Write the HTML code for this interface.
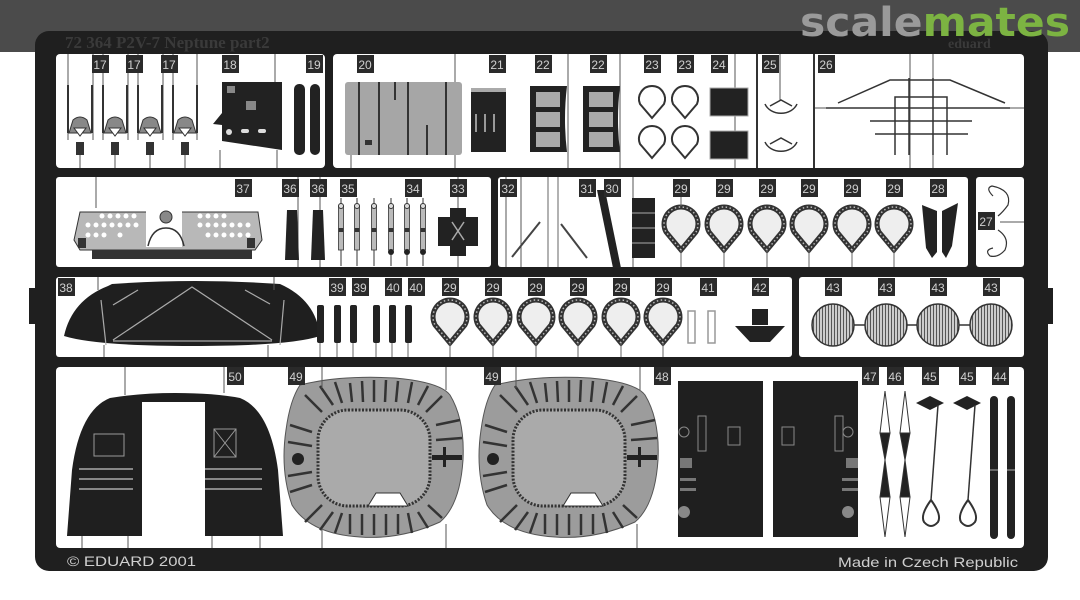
<!DOCTYPE html>
<html><head><meta charset="utf-8"><style>
html,body{margin:0;padding:0;background:#fff;}
svg{display:block;}
</style></head><body>
<svg width="1080" height="600" viewBox="0 0 1080 600" xmlns="http://www.w3.org/2000/svg" font-family="Liberation Sans, sans-serif">
<defs>
<pattern id="hatch" width="3" height="4" patternUnits="userSpaceOnUse"><rect width="3" height="4" fill="#ccc"/><rect width="1" height="4" fill="#555"/></pattern>
<g id="drop29"><path d="M0 22 L-15 4 A17 17 0 1 1 15 4 Z" fill="#eee" stroke="#333" stroke-width="5"/><path d="M0 22 L-15 4 A17 17 0 1 1 15 4 Z" fill="none" stroke="#bbb" stroke-width="1.5" stroke-dasharray="1.5 2.5"/></g>
<g id="drop23"><path d="M0 18 L-12 4 A13 13 0 1 1 12 4 Z" fill="none" stroke="#333" stroke-width="2"/></g>
</defs>
<!-- header -->
<rect x="0" y="0" width="1080" height="52" fill="#4b4b4b"/>
<!-- fret frame -->
<rect x="35" y="31" width="1013" height="540" rx="14" fill="#1f1f1f"/>
<rect x="29" y="288" width="8" height="36" fill="#1f1f1f"/>
<rect x="1045" y="288" width="8" height="36" fill="#1f1f1f"/>
<text x="65" y="48" font-family="Liberation Serif, serif" font-weight="bold" font-size="17" fill="#3a3a3a">72 364  P2V-7 Neptune   part2</text>
<text x="800" y="36" font-family="DejaVu Sans, sans-serif" font-weight="bold" font-size="40" fill="#9a9a9a" textLength="270" lengthAdjust="spacingAndGlyphs">scale<tspan fill="#7cb342">mates</tspan></text>
<text x="948" y="48" font-family="Liberation Serif, serif" font-weight="bold" font-size="14" fill="#3a3a3a">eduard</text>
<!-- panels -->
<g fill="#fff">
<rect x="56" y="54" width="269" height="114" rx="4"/>
<rect x="333" y="54" width="691" height="114" rx="4"/>
<rect x="56" y="177" width="435" height="90" rx="3"/>
<rect x="498" y="177" width="470" height="90" rx="3"/>
<rect x="976" y="177" width="48" height="90" rx="3"/>
<rect x="56" y="277" width="736" height="80" rx="3"/>
<rect x="799" y="277" width="225" height="80" rx="3"/>
<rect x="56" y="367" width="968" height="181" rx="4"/>
</g>
<rect x="756" y="54" width="2" height="114" fill="#333"/>
<rect x="813" y="54" width="2" height="114" fill="#333"/>
<g stroke="#555" stroke-width="1">
<line x1="68" y1="54" x2="68" y2="140"/><line x1="93" y1="54" x2="93" y2="140"/>
<line x1="103" y1="54" x2="103" y2="140"/><line x1="128" y1="54" x2="128" y2="140"/>
<line x1="138" y1="54" x2="138" y2="140"/><line x1="163" y1="54" x2="163" y2="140"/>
<line x1="173" y1="54" x2="173" y2="140"/><line x1="197" y1="54" x2="197" y2="140"/>
<line x1="275" y1="54" x2="275" y2="82"/><line x1="220" y1="150" x2="220" y2="168"/><line x1="277" y1="150" x2="277" y2="168"/>
<line x1="455" y1="54" x2="455" y2="82"/><line x1="351" y1="155" x2="351" y2="168"/><line x1="455" y1="155" x2="455" y2="168"/>
<line x1="568" y1="54" x2="568" y2="168"/><line x1="620" y1="54" x2="620" y2="168"/>
<line x1="735" y1="54" x2="735" y2="168"/><line x1="780" y1="54" x2="780" y2="100"/>
<line x1="910" y1="54" x2="910" y2="168"/><line x1="933" y1="54" x2="933" y2="168"/>
<line x1="815" y1="108" x2="1024" y2="108"/>
</g>
<g>
<g id="p17">
<rect x="67" y="85" width="2" height="48" fill="#333"/><rect x="91" y="85" width="2" height="48" fill="#333"/>
<path d="M69 133 L73 120 Q80 114 87 120 L91 133 Z" fill="#888" stroke="#333"/>
<path d="M74 128 L86 128 L80 136 Z" fill="#fff" stroke="#333"/>
<rect x="76" y="142" width="8" height="13" fill="#333"/>
<line x1="80" y1="155" x2="80" y2="168" stroke="#555"/>
</g>
<use href="#p17" x="35"/><use href="#p17" x="70"/><use href="#p17" x="105"/>
</g>
<path d="M222 82 L282 82 L282 150 L222 141 L222 125 L213 124 L222 113 Z" fill="#222"/>
<rect x="227" y="86" width="8" height="7" fill="#888"/><rect x="246" y="101" width="10" height="9" fill="#888"/><circle cx="229" cy="132" r="3" fill="#ddd"/><rect x="241" y="129" width="8" height="4" rx="2" fill="#ddd"/><rect x="258" y="129" width="8" height="4" rx="2" fill="#ddd"/>
<rect x="294" y="84" width="11" height="71" rx="5" fill="#222"/><rect x="310" y="84" width="10" height="71" rx="5" fill="#222"/>
<rect x="345" y="82" width="117" height="73" rx="3" fill="#a6a6a6"/>
<g stroke="#333" stroke-width="2"><line x1="359" y1="82" x2="359" y2="155"/><line x1="379" y1="82" x2="379" y2="155"/><line x1="408" y1="82" x2="408" y2="155"/><line x1="446" y1="82" x2="446" y2="155"/><line x1="395" y1="82" x2="395" y2="100"/><line x1="427" y1="125" x2="427" y2="155"/></g>
<rect x="365" y="140" width="7" height="5" fill="#333"/>
<rect x="471" y="90" width="35" height="62" fill="#222"/><rect x="471" y="88" width="35" height="4" fill="#aaa"/>
<g fill="#999"><rect x="475" y="114" width="2" height="18"/><rect x="484" y="114" width="2" height="18"/><rect x="493" y="114" width="2" height="18"/></g>
<g id="p22"><path d="M530 86 L567 86 Q563 119 567 152 L530 152 Z" fill="#222"/>
<rect x="536" y="92" width="24" height="15" fill="#aaa"/><rect x="536" y="112" width="24" height="15" fill="#aaa"/><rect x="536" y="132" width="24" height="15" fill="#aaa"/></g>
<use href="#p22" x="53"/>
<use href="#drop23" x="652" y="100"/><use href="#drop23" x="685" y="100"/><use href="#drop23" x="652" y="140"/><use href="#drop23" x="685" y="140"/>
<rect x="710" y="88" width="38" height="28" fill="#222" stroke="#aaa"/><rect x="710" y="131" width="38" height="28" fill="#222" stroke="#aaa"/>
<g fill="none" stroke="#333" stroke-width="1.5"><path d="M765 104 A17 14 0 0 0 797 104"/><path d="M770 106 L781 100 L792 106"/><path d="M765 142 A17 14 0 0 0 797 142"/><path d="M770 144 L781 138 L792 144"/></g>
<g stroke="#333" stroke-width="1.5" fill="none"><path d="M838 103 L890 80 L950 80 L1005 103"/><line x1="826" y1="108" x2="1010" y2="108"/><line x1="870" y1="121" x2="972" y2="121"/><line x1="875" y1="134" x2="968" y2="134"/><line x1="909" y1="78" x2="909" y2="155"/><line x1="933" y1="78" x2="933" y2="155"/><path d="M895 155 L895 97 L947 97 L947 155"/></g>
<g stroke="#555" stroke-width="1">
<line x1="96" y1="177" x2="96" y2="208"/><line x1="298" y1="177" x2="298" y2="267"/><line x1="320" y1="177" x2="320" y2="267"/>
<line x1="506" y1="177" x2="506" y2="267"/><line x1="521" y1="177" x2="521" y2="267"/><line x1="633" y1="177" x2="633" y2="267"/>
<line x1="1000" y1="222" x2="1024" y2="222"/>
</g>
<path d="M80 212 L258 212 L262 240 L255 250 L80 250 L74 240 Z" fill="#b8b8b8" stroke="#333"/>
<g fill="#fff">
<circle cx="102" cy="216" r="2.5"/><circle cx="110" cy="216" r="2.5"/><circle cx="118" cy="216" r="2.5"/><circle cx="126" cy="216" r="2.5"/><circle cx="134" cy="216" r="2.5"/>
<circle cx="88" cy="225" r="2.5"/><circle cx="96" cy="225" r="2.5"/><circle cx="104" cy="225" r="2.5"/><circle cx="112" cy="225" r="2.5"/><circle cx="120" cy="225" r="2.5"/><circle cx="128" cy="225" r="2.5"/><circle cx="136" cy="225" r="2.5"/>
<circle cx="88" cy="235" r="2.5"/><circle cx="96" cy="235" r="2.5"/><circle cx="104" cy="235" r="2.5"/><circle cx="120" cy="235" r="2.5"/>
<circle cx="200" cy="216" r="2.5"/><circle cx="208" cy="216" r="2.5"/><circle cx="216" cy="216" r="2.5"/><circle cx="224" cy="216" r="2.5"/>
<circle cx="200" cy="225" r="2.5"/><circle cx="208" cy="225" r="2.5"/><circle cx="216" cy="225" r="2.5"/><circle cx="224" cy="225" r="2.5"/><circle cx="232" cy="225" r="2.5"/><circle cx="240" cy="225" r="2.5"/><circle cx="248" cy="225" r="2.5"/>
<circle cx="208" cy="235" r="2.5"/><circle cx="216" cy="235" r="2.5"/><circle cx="224" cy="235" r="2.5"/><circle cx="232" cy="235" r="2.5"/><circle cx="240" cy="235" r="2.5"/><circle cx="248" cy="235" r="2.5"/>
<rect x="146" y="211" width="36" height="36"/></g>
<circle cx="166" cy="217" r="6" fill="#888" stroke="#333"/><path d="M148 246 Q152 228 166 228 Q180 228 184 246" fill="none" stroke="#333" stroke-width="1.5"/>
<rect x="92" y="250" width="160" height="9" fill="#333"/><rect x="78" y="238" width="8" height="10" fill="#333"/><rect x="247" y="238" width="8" height="10" fill="#333"/>
<path d="M287 210 L297 210 L299 260 L285 260 Z" fill="#222"/><path d="M313 210 L323 210 L325 260 L311 260 Z" fill="#222"/>
<g id="p35"><line x1="341" y1="198" x2="341" y2="266" stroke="#333"/><rect x="338.5" y="206" width="5" height="44" fill="#bbb" stroke="#333" stroke-width="0.8"/><circle cx="341" cy="206" r="2.5" fill="#ddd" stroke="#333"/><rect x="338.5" y="228" width="5" height="4" fill="#333"/></g>
<use href="#p35" x="16"/><use href="#p35" x="33"/><use href="#p35" x="50"/><use href="#p35" x="66"/><use href="#p35" x="82"/>
<circle cx="391" cy="252" r="3" fill="#222"/><circle cx="407" cy="252" r="3" fill="#222"/><circle cx="423" cy="252" r="3" fill="#222"/>
<line x1="458" y1="177" x2="458" y2="267" stroke="#555"/>
<path d="M450 208 L466 208 L466 217 L478 217 L478 246 L466 246 L466 256 L450 256 L450 246 L438 246 L438 217 L450 217 Z" fill="#222"/>
<path d="M452 222 L464 240 M464 222 L452 240" stroke="#aaa" stroke-width="1.5"/>
<g stroke="#444" stroke-width="2"><line x1="512" y1="257" x2="540" y2="222"/><line x1="561" y1="224" x2="587" y2="258"/></g>
<line x1="548" y1="177" x2="548" y2="267" stroke="#666"/><line x1="558" y1="177" x2="558" y2="267" stroke="#666"/>
<path d="M597 190 L605 190 L621 268 L613 268 Z" fill="#222"/>
<rect x="632" y="198" width="23" height="60" fill="#222"/><g stroke="#aaa"><line x1="632" y1="213" x2="655" y2="213"/><line x1="632" y1="228" x2="655" y2="228"/><line x1="632" y1="243" x2="655" y2="243"/></g>
<g><use href="#drop29" x="681" y="228"/><use href="#drop29" x="724" y="228"/><use href="#drop29" x="767" y="228"/><use href="#drop29" x="809" y="228"/><use href="#drop29" x="852" y="228"/><use href="#drop29" x="894" y="228"/></g>
<g stroke="#666"><line x1="681" y1="196" x2="681" y2="206"/><line x1="681" y1="250" x2="681" y2="267"/><line x1="724" y1="250" x2="724" y2="267"/><line x1="767" y1="250" x2="767" y2="267"/><line x1="809" y1="250" x2="809" y2="267"/><line x1="852" y1="250" x2="852" y2="267"/><line x1="894" y1="250" x2="894" y2="267"/></g>
<path d="M922 205 L937 211 L937 252 L932 258 L926 248 Z" fill="#222"/><path d="M958 203 L942 211 L942 252 L946 258 L952 246 Z" fill="#222"/>
<g fill="none" stroke="#333" stroke-width="1.2"><path d="M993 196 Q985 188 992 186 Q1012 190 1008 205 Q1003 212 998 216"/><path d="M998 230 Q1010 238 1005 250 Q998 258 990 256 Q984 250 993 248"/></g>
<path d="M64 336 Q72 300 108 286 L112 284 Q195 278 280 284 Q316 300 320 336 Q290 346 192 346 Q96 346 64 336 Z" fill="#1f1f1f"/>
<g stroke="#aaa" stroke-width="1.2" fill="none"><line x1="101" y1="300" x2="106" y2="345"/><line x1="284" y1="300" x2="280" y2="345"/><line x1="113" y1="341" x2="272" y2="341"/><path d="M113 340 L192 287 L272 340"/><line x1="113" y1="305" x2="138" y2="290"/><line x1="245" y1="290" x2="270" y2="304"/></g>
<g stroke="#555"><line x1="98" y1="277" x2="98" y2="290"/><line x1="274" y1="277" x2="274" y2="290"/><line x1="104" y1="345" x2="104" y2="357"/><line x1="268" y1="345" x2="268" y2="357"/></g>
<g fill="#222"><rect x="317" y="305" width="7" height="38" rx="2"/><rect x="334" y="305" width="7" height="38" rx="2"/><rect x="350" y="305" width="7" height="38" rx="2"/><rect x="373" y="305" width="7" height="38" rx="2"/><rect x="389" y="305" width="7" height="38" rx="2"/><rect x="405" y="305" width="7" height="38" rx="2"/></g>
<g stroke="#666"><line x1="320" y1="343" x2="320" y2="357"/><line x1="337" y1="343" x2="337" y2="357"/><line x1="353" y1="343" x2="353" y2="357"/><line x1="376" y1="343" x2="376" y2="357"/><line x1="392" y1="343" x2="392" y2="357"/><line x1="408" y1="343" x2="408" y2="357"/></g>
<g><use href="#drop29" x="450" y="321"/><use href="#drop29" x="493" y="321"/><use href="#drop29" x="536" y="321"/><use href="#drop29" x="578" y="321"/><use href="#drop29" x="621" y="321"/><use href="#drop29" x="663" y="321"/></g>
<g stroke="#666"><line x1="450" y1="343" x2="450" y2="357"/><line x1="493" y1="343" x2="493" y2="357"/><line x1="536" y1="343" x2="536" y2="357"/><line x1="578" y1="343" x2="578" y2="357"/><line x1="621" y1="343" x2="621" y2="357"/><line x1="663" y1="343" x2="663" y2="357"/></g>
<rect x="688" y="311" width="7" height="32" fill="none" stroke="#999" stroke-width="1.5"/><rect x="708" y="311" width="7" height="32" fill="none" stroke="#999" stroke-width="1.5"/>
<rect x="752" y="309" width="16" height="16" fill="#222"/><path d="M735 326 L785 326 L770 342 L750 342 Z" fill="#222"/>
<g stroke="#333" stroke-width="1.5"><line x1="833" y1="325" x2="991" y2="325"/>
<circle cx="833" cy="325" r="21" fill="url(#hatch)"/><circle cx="886" cy="325" r="21" fill="url(#hatch)"/><circle cx="938" cy="325" r="21" fill="url(#hatch)"/><circle cx="991" cy="325" r="21" fill="url(#hatch)"/></g>
<path d="M67 536 L72 470 Q80 410 110 398 Q140 393 175 393 Q215 393 240 398 Q270 410 278 470 L283 536 L205 536 L205 402 L142 402 L142 536 Z" fill="#1f1f1f"/>
<rect x="94" y="434" width="30" height="22" fill="none" stroke="#999"/><rect x="214" y="429" width="22" height="28" fill="none" stroke="#999"/><path d="M214 429 L236 457 M236 429 L214 457" stroke="#999"/>
<g stroke="#aaa" stroke-width="1.5"><line x1="79" y1="469" x2="133" y2="469"/><line x1="79" y1="479" x2="133" y2="479"/><line x1="79" y1="489" x2="133" y2="489"/><line x1="205" y1="469" x2="262" y2="469"/><line x1="205" y1="479" x2="262" y2="479"/><line x1="205" y1="489" x2="262" y2="489"/></g>
<g id="p49">
<path d="M300 385 Q340 375 395 378 Q440 382 450 395 Q465 420 463 460 Q460 505 440 522 Q400 540 360 537 Q310 534 292 505 Q280 470 286 430 Q290 400 300 385 Z" fill="#9c9c9c" stroke="#555"/>
<rect x="318" y="410" width="112" height="96" rx="30" fill="#aaa" stroke="#333" stroke-width="3" stroke-dasharray="2 1.5"/>
<path d="M368 506 L376 493 L400 493 L408 506 Z" fill="#fff" stroke="#333"/>
<circle cx="298" cy="459" r="6" fill="#222"/>
<rect x="432" y="455" width="30" height="5" fill="#222"/><rect x="443" y="447" width="3" height="20" fill="#222"/>
<g stroke="#333" stroke-width="2.5">
<line x1="350" y1="383" x2="352" y2="402"/><line x1="362" y1="381" x2="363" y2="402"/><line x1="374" y1="380" x2="374" y2="402"/><line x1="386" y1="380" x2="385" y2="402"/><line x1="398" y1="381" x2="396" y2="402"/>
<line x1="350" y1="514" x2="350" y2="534"/><line x1="362" y1="514" x2="362" y2="535"/><line x1="374" y1="514" x2="374" y2="535"/><line x1="386" y1="514" x2="386" y2="535"/><line x1="398" y1="514" x2="398" y2="534"/>
<line x1="290" y1="425" x2="312" y2="432"/><line x1="288" y1="442" x2="312" y2="446"/><line x1="288" y1="476" x2="312" y2="472"/><line x1="290" y1="492" x2="312" y2="485"/>
<line x1="305" y1="395" x2="322" y2="412"/><line x1="320" y1="386" x2="333" y2="405"/><line x1="335" y1="382" x2="342" y2="403"/>
<line x1="305" y1="522" x2="322" y2="505"/><line x1="320" y1="530" x2="333" y2="512"/><line x1="335" y1="533" x2="342" y2="513"/>
<line x1="412" y1="382" x2="408" y2="403"/><line x1="428" y1="386" x2="418" y2="405"/><line x1="442" y1="396" x2="426" y2="412"/>
<line x1="412" y1="533" x2="408" y2="513"/><line x1="428" y1="528" x2="418" y2="512"/><line x1="442" y1="518" x2="428" y2="505"/>
<line x1="436" y1="425" x2="460" y2="420"/><line x1="436" y1="440" x2="462" y2="438"/>
</g>
</g>
<use href="#p49" x="195"/>
<g stroke="#555"><line x1="322" y1="367" x2="322" y2="388"/><line x1="322" y1="530" x2="322" y2="548"/><line x1="446" y1="367" x2="446" y2="390"/><line x1="446" y1="524" x2="446" y2="548"/><line x1="516" y1="367" x2="516" y2="388"/><line x1="640" y1="367" x2="640" y2="390"/><line x1="637" y1="524" x2="637" y2="548"/><line x1="125" y1="367" x2="125" y2="395"/><line x1="82" y1="536" x2="82" y2="548"/><line x1="128" y1="536" x2="128" y2="548"/><line x1="212" y1="536" x2="212" y2="548"/><line x1="260" y1="536" x2="260" y2="548"/><line x1="224" y1="367" x2="224" y2="393"/></g>
<rect x="678" y="381" width="85" height="156" fill="#1f1f1f"/><rect x="773" y="381" width="85" height="156" fill="#1f1f1f"/>
<g fill="none" stroke="#888"><rect x="698" y="416" width="8" height="35"/><rect x="728" y="427" width="12" height="18"/><rect x="835" y="416" width="8" height="35"/><rect x="782" y="427" width="12" height="18"/><circle cx="684" cy="432" r="5"/><circle cx="848" cy="432" r="5"/></g>
<circle cx="684" cy="512" r="6" fill="#888"/><circle cx="848" cy="512" r="6" fill="#888"/>
<g fill="#777"><rect x="680" y="458" width="12" height="10"/><rect x="846" y="458" width="12" height="10"/><rect x="680" y="478" width="16" height="3"/><rect x="680" y="488" width="16" height="3"/><rect x="842" y="478" width="16" height="3"/><rect x="842" y="488" width="16" height="3"/></g>
<g fill="#222" stroke="#333"><path d="M885 391 L890 433 L880 433 Z" fill="#fff"/><path d="M880 433 L890 433 L885 460 Z"/><path d="M885 460 L890 497 L880 497 Z"/><path d="M880 497 L890 497 L885 537 Z" fill="#fff"/>
<path d="M905 391 L910 433 L900 433 Z" fill="#fff"/><path d="M900 433 L910 433 L905 460 Z"/><path d="M905 460 L910 497 L900 497 Z"/><path d="M900 497 L910 497 L905 537 Z" fill="#fff"/></g>
<g><path d="M916 403 L930 396 L944 403 L930 410 Z" fill="#222"/><line x1="938" y1="405" x2="931" y2="500" stroke="#333" stroke-width="1.5"/><path d="M931 500 Q920 515 924 522 Q931 530 938 522 Q942 515 931 500" fill="none" stroke="#333" stroke-width="2"/></g>
<g transform="translate(37,0)"><path d="M916 403 L930 396 L944 403 L930 410 Z" fill="#222"/><line x1="938" y1="405" x2="931" y2="500" stroke="#333" stroke-width="1.5"/><path d="M931 500 Q920 515 924 522 Q931 530 938 522 Q942 515 931 500" fill="none" stroke="#333" stroke-width="2"/></g>
<rect x="990" y="396" width="8" height="143" rx="4" fill="#222"/><rect x="1007" y="396" width="8" height="143" rx="4" fill="#222"/>
<line x1="990" y1="470" x2="998" y2="470" stroke="#aaa"/><line x1="1007" y1="470" x2="1015" y2="470" stroke="#aaa"/>
<g font-size="12" text-anchor="middle" fill="#d0d0d0">
<g fill="#2a2a2a">
<rect x="92" y="55" width="17" height="18"/><rect x="126" y="55" width="17" height="18"/><rect x="161" y="55" width="17" height="18"/><rect x="222" y="55" width="17" height="18"/><rect x="306" y="55" width="17" height="18"/><rect x="357" y="55" width="17" height="18"/><rect x="489" y="55" width="17" height="18"/><rect x="535" y="55" width="17" height="18"/><rect x="590" y="55" width="17" height="18"/><rect x="644" y="55" width="17" height="18"/><rect x="677" y="55" width="17" height="18"/><rect x="711" y="55" width="17" height="18"/><rect x="762" y="55" width="17" height="18"/><rect x="818" y="55" width="17" height="18"/>
<rect x="235" y="179" width="17" height="18"/><rect x="282" y="179" width="17" height="18"/><rect x="310" y="179" width="17" height="18"/><rect x="340" y="179" width="17" height="18"/><rect x="405" y="179" width="17" height="18"/><rect x="450" y="179" width="17" height="18"/><rect x="500" y="179" width="17" height="18"/><rect x="579" y="179" width="17" height="18"/><rect x="604" y="179" width="17" height="18"/><rect x="673" y="179" width="17" height="18"/><rect x="716" y="179" width="17" height="18"/><rect x="759" y="179" width="17" height="18"/><rect x="801" y="179" width="17" height="18"/><rect x="844" y="179" width="17" height="18"/><rect x="886" y="179" width="17" height="18"/><rect x="930" y="179" width="17" height="18"/><rect x="978" y="212" width="17" height="18"/>
<rect x="58" y="278" width="17" height="18"/><rect x="329" y="278" width="17" height="18"/><rect x="352" y="278" width="17" height="18"/><rect x="385" y="278" width="17" height="18"/><rect x="408" y="278" width="17" height="18"/><rect x="442" y="278" width="17" height="18"/><rect x="485" y="278" width="17" height="18"/><rect x="528" y="278" width="17" height="18"/><rect x="570" y="278" width="17" height="18"/><rect x="613" y="278" width="17" height="18"/><rect x="655" y="278" width="17" height="18"/><rect x="700" y="278" width="17" height="18"/><rect x="752" y="278" width="17" height="18"/><rect x="825" y="278" width="17" height="18"/><rect x="878" y="278" width="17" height="18"/><rect x="930" y="278" width="17" height="18"/><rect x="983" y="278" width="17" height="18"/>
<rect x="227" y="367" width="17" height="18"/><rect x="288" y="367" width="17" height="18"/><rect x="484" y="367" width="17" height="18"/><rect x="654" y="367" width="17" height="18"/><rect x="862" y="367" width="17" height="18"/><rect x="887" y="367" width="17" height="18"/><rect x="922" y="367" width="17" height="18"/><rect x="959" y="367" width="17" height="18"/><rect x="992" y="367" width="17" height="18"/>
</g>
<text x="100" y="69">17</text><text x="134" y="69">17</text><text x="169" y="69">17</text><text x="230" y="69">18</text><text x="314" y="69">19</text><text x="365" y="69">20</text><text x="497" y="69">21</text><text x="543" y="69">22</text><text x="598" y="69">22</text><text x="652" y="69">23</text><text x="685" y="69">23</text><text x="719" y="69">24</text><text x="770" y="69">25</text><text x="826" y="69">26</text>
<text x="243" y="193">37</text><text x="290" y="193">36</text><text x="318" y="193">36</text><text x="348" y="193">35</text><text x="413" y="193">34</text><text x="458" y="193">33</text><text x="508" y="193">32</text><text x="587" y="193">31</text><text x="612" y="193">30</text><text x="681" y="193">29</text><text x="724" y="193">29</text><text x="767" y="193">29</text><text x="809" y="193">29</text><text x="852" y="193">29</text><text x="894" y="193">29</text><text x="938" y="193">28</text><text x="986" y="226">27</text>
<text x="66" y="292">38</text><text x="337" y="292">39</text><text x="360" y="292">39</text><text x="393" y="292">40</text><text x="416" y="292">40</text><text x="450" y="292">29</text><text x="493" y="292">29</text><text x="536" y="292">29</text><text x="578" y="292">29</text><text x="621" y="292">29</text><text x="663" y="292">29</text><text x="708" y="292">41</text><text x="760" y="292">42</text><text x="833" y="292">43</text><text x="886" y="292">43</text><text x="938" y="292">43</text><text x="991" y="292">43</text>
<text x="235" y="381">50</text><text x="296" y="381">49</text><text x="492" y="381">49</text><text x="662" y="381">48</text><text x="870" y="381">47</text><text x="895" y="381">46</text><text x="930" y="381">45</text><text x="967" y="381">45</text><text x="1000" y="381">44</text>
</g>
<text x="67" y="566" font-size="14" fill="#cfcfcf" textLength="129" lengthAdjust="spacingAndGlyphs">© EDUARD 2001</text>
<text x="838" y="567" font-size="14" fill="#cfcfcf" textLength="180" lengthAdjust="spacingAndGlyphs">Made in Czech Republic</text>
</svg>
</body></html>
